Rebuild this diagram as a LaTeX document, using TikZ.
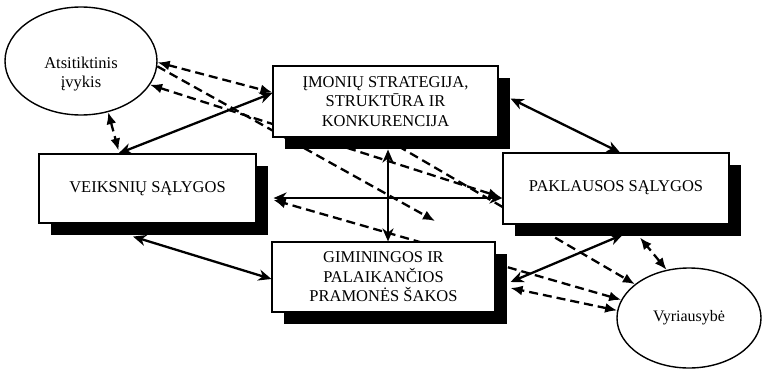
\documentclass[tikz,border=0pt]{standalone}
\usepackage{fontspec}
\setmainfont{Liberation Serif}
\usetikzlibrary{shapes.geometric,shadows,backgrounds,arrows.meta}
\begin{document}
\begin{tikzpicture}[x=1pt,y=-1pt,
  box/.style={draw=black, line width=1.1pt, fill=white, rectangle, inner sep=0pt, align=center,
    font=\fontsize{16.5}{19.5}\selectfont,
    drop shadow={shadow xshift=12pt, shadow yshift=-12pt, fill=black, opacity=1}},
  oval/.style={draw=black, line width=1.4pt, fill=white, ellipse, inner sep=0pt, align=center,
    font=\fontsize{16}{19.5}\selectfont},
  solidlink/.style={line width=2.3pt, {Stealth[length=13pt,width=11pt,inset=4pt]}-{Stealth[length=13pt,width=11pt,inset=4pt]}},
  dashlink/.style={line width=2.3pt, dash pattern=on 9pt off 5pt, {Latex[length=12pt,width=10pt]}-{Latex[length=12pt,width=10pt]}},
  dashone/.style={line width=2.3pt, dash pattern=on 9pt off 5pt, -{Latex[length=12pt,width=10pt]}}]
\useasboundingbox (0,0) rectangle (763,372);

\node[box, minimum width=225pt, minimum height=71pt] (imon) at (385.5,101.5)
  {ĮMONIŲ STRATEGIJA,\\STRUKTŪRA IR\\KONKURENCIJA};
\node[box, minimum width=217pt, minimum height=69pt] (veik) at (147.5,188.5)
  {VEIKSNIŲ SĄLYGOS};
\node[box, minimum width=226pt, minimum height=71pt] (pakl) at (616,188.5)
  {\raisebox{5pt}{PAKLAUSOS SĄLYGOS}};
\node[box, minimum width=223pt, minimum height=70pt] (gim) at (383.5,277)
  {GIMININGOS IR\\PALAIKANČIOS\\PRAMONĖS ŠAKOS};
\node[oval, minimum width=152pt, minimum height=108pt,
  label={[yshift=-13pt, align=center, font=\fontsize{16.5}{19.5}\selectfont]center:Atsitiktinis\\įvykis}] (atsi) at (81,61) {};
\node[oval, minimum width=144pt, minimum height=100pt] (vyr) at (689,318) {Vyriausybė};

\coordinate (free) at (435,221);
\coordinate (hid) at (398,146);

\begin{scope}[on background layer]
  % solid links
  \draw[solidlink] ([yshift=8.5pt]imon.west) -- ([xshift=-29pt]veik.north);
  \draw[solidlink] ([xshift=12pt,yshift=3pt]imon.east) -- ([xshift=4pt]pakl.north);
  \draw[solidlink] ([xshift=17pt,yshift=-9.5pt]veik.east) -- ([yshift=-9.5pt]pakl.west);
  \draw[solidlink] ([xshift=2.5pt,yshift=-12pt]imon.south) -- ([xshift=4.5pt]gim.north);
  \draw[solidlink] ([xshift=-14.5pt,yshift=-13pt]veik.south) -- ([yshift=-2pt]gim.west);
  \draw[solidlink] ([xshift=7pt,yshift=-10pt]pakl.south) -- ([xshift=15pt,yshift=-5pt]gim.east);
  % dashed links: chance
  \draw[dashlink] (atsi.-62) -- ([xshift=-29pt,yshift=3pt]veik.north);
  \draw[dashlink] (atsi.-1) -- ([yshift=9pt]imon.west);
  \draw[dashone] (atsi.-4) -- (free);
  \draw[dashlink] (atsi.-19) -- ([xshift=-2pt,yshift=-8.5pt]pakl.west);
  % dashed links: government
  \draw[dashlink] (vyr.115) -- ([xshift=24pt,yshift=-13pt]pakl.south);
  \draw[dashlink] (vyr.174) -- ([xshift=15pt,yshift=-11pt]gim.east);
  \draw[dashlink] (vyr.165) -- ([xshift=17pt,yshift=-11.5pt]veik.east);
  \draw[dashone] (hid) -- (vyr.148);
\end{scope}
\end{tikzpicture}
\end{document}
